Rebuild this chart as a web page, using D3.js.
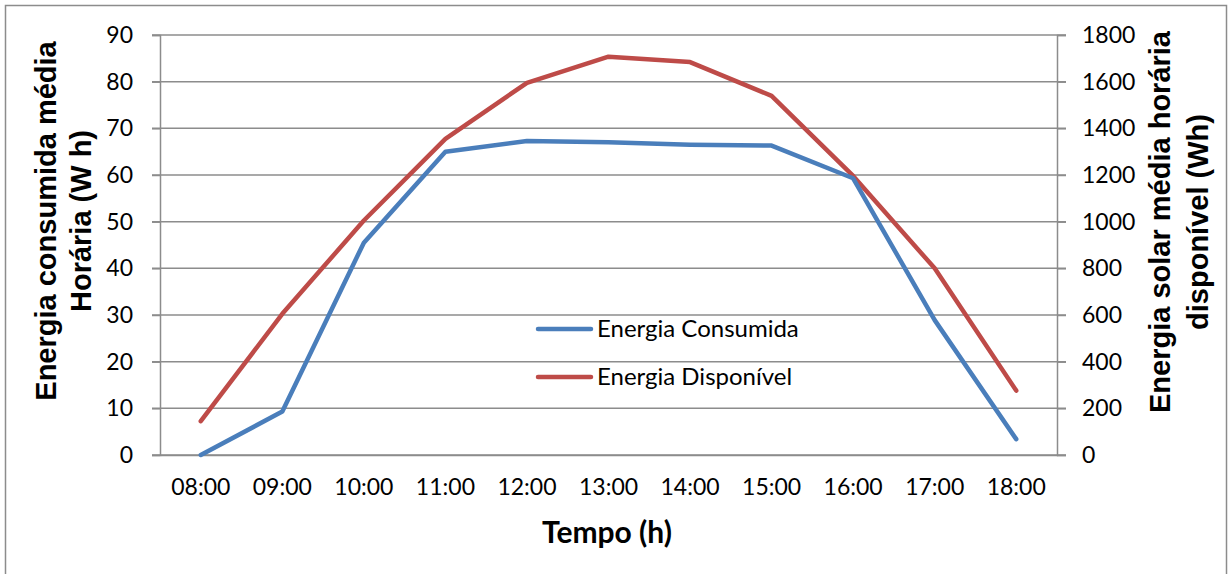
<!DOCTYPE html>
<html>
<head>
<meta charset="utf-8">
<script src="https://cdn.jsdelivr.net/npm/d3@7"></script>
<style>
  html, body { margin: 0; padding: 0; background: #fff; }
  svg { display: block; }
</style>
</head>
<body>
<svg id="chart" width="1229" height="574"></svg>
<script>
const categories = ["08:00","09:00","10:00","11:00","12:00","13:00","14:00","15:00","16:00","17:00","18:00"];
const consumida = [0, 9.3, 45.5, 65.0, 67.3, 67.0, 66.5, 66.3, 59.3, 28.9, 3.4];
const disponivel = [145, 605, 1005, 1355, 1595, 1707, 1684, 1539, 1196, 800, 276];
const leftTicks = [0,10,20,30,40,50,60,70,80,90];
const rightTicks = [0,200,400,600,800,1000,1200,1400,1600,1800];
const seriesNames = ["Energia Consumida", "Energia Disponível"];
const colors = ["#4a7ebb", "#be4b48"];

const svg = d3.select("#chart");
const m = {left: 160, right: 1057, top: 35, bottom: 455};
const gridColor = "#8c8c8c";
const tickFont = "Lato, 'Open Sans', sans-serif";

// border
svg.append("rect").attr("x", 5.5).attr("y", 5.5).attr("width", 1221).attr("height", 620)
  .attr("fill", "#fff").attr("stroke", gridColor).attr("stroke-width", 1.5);

const x = d3.scaleBand().domain(categories).range([m.left, m.right]);
const yL = d3.scaleLinear().domain([0, 90]).range([m.bottom, m.top]);
const yR = d3.scaleLinear().domain([0, 1800]).range([m.bottom, m.top]);

// gridlines
svg.append("g").selectAll("line").data(leftTicks).join("line")
  .attr("x1", m.left - 8).attr("x2", m.right + 9)
  .attr("y1", d => yL(d)).attr("y2", d => yL(d))
  .attr("stroke", gridColor).attr("stroke-width", 1.5);

// left axis
const axL = svg.append("g").attr("transform", `translate(${m.left},0)`)
  .call(d3.axisLeft(yL).tickValues(leftTicks).tickFormat(d3.format("d")).tickSize(8).tickPadding(19));
axL.select(".domain").attr("stroke", gridColor).attr("stroke-width", 1.5);
axL.selectAll(".tick line").attr("stroke", gridColor).attr("stroke-width", 1.5);
axL.selectAll("text").attr("font-family", tickFont).attr("font-size", 23).attr("fill", "#000");

// right axis
const axR = svg.append("g").attr("transform", `translate(${m.right},0)`)
  .call(d3.axisRight(yR).tickValues(rightTicks).tickFormat(d3.format("d")).tickSize(9).tickPadding(16));
axR.select(".domain").attr("stroke", gridColor).attr("stroke-width", 1.5);
axR.selectAll(".tick line").attr("stroke", gridColor).attr("stroke-width", 1.5);
axR.selectAll("text").attr("font-family", tickFont).attr("font-size", 23).attr("fill", "#000");

// bottom axis
const axB = svg.append("g").attr("transform", `translate(0,${m.bottom})`)
  .call(d3.axisBottom(x).tickSize(0).tickPadding(24));
axB.select(".domain").attr("stroke", gridColor).attr("stroke-width", 1.5);
axB.selectAll("text").attr("font-family", tickFont).attr("font-size", 23).attr("fill", "#000");

// lines
const cx = d => x(d) + x.bandwidth() / 2;
const lineL = d3.line().x((d, i) => cx(categories[i])).y(d => yL(d));
const lineR = d3.line().x((d, i) => cx(categories[i])).y(d => yR(d));

svg.append("path").datum(disponivel).attr("d", lineR)
  .attr("fill", "none").attr("stroke", colors[1]).attr("stroke-width", 4.5)
  .attr("stroke-linejoin", "round").attr("stroke-linecap", "round");
svg.append("path").datum(consumida).attr("d", lineL)
  .attr("fill", "none").attr("stroke", colors[0]).attr("stroke-width", 4.5)
  .attr("stroke-linejoin", "round").attr("stroke-linecap", "round");

// legend
const legY = [329, 377];
const leg = svg.append("g");
seriesNames.forEach((name, i) => {
  leg.append("line").attr("x1", 538).attr("x2", 591).attr("y1", legY[i]).attr("y2", legY[i])
    .attr("stroke", colors[i]).attr("stroke-width", 4.5).attr("stroke-linecap", "round");
  leg.append("text").attr("x", 597).attr("y", legY[i]).attr("dy", "0.35em")
    .attr("font-family", tickFont).attr("font-size", 24).attr("fill", "#000").text(name);
});

// axis titles
const titleFont = "'Liberation Sans', Arial, sans-serif";
const lt = svg.append("text").attr("transform", "translate(0,221) rotate(-90)")
  .attr("text-anchor", "middle").attr("font-family", titleFont).attr("font-weight", "bold")
  .attr("font-size", 29).attr("fill", "#000");
lt.append("tspan").attr("x", 0).attr("y", 56).text("Energia consumida média");
lt.append("tspan").attr("x", 0).attr("y", 91).text("Horária (W h)");

const rt = svg.append("text").attr("transform", "translate(0,222) rotate(-90)")
  .attr("text-anchor", "middle").attr("font-family", titleFont).attr("font-weight", "bold")
  .attr("font-size", 29).attr("fill", "#000");
rt.append("tspan").attr("x", 0).attr("y", 1170).text("Energia solar média horária");
rt.append("tspan").attr("x", 0).attr("y", 1208).text("disponível (Wh)");

svg.append("text").attr("x", 607).attr("y", 543).attr("text-anchor", "middle")
  .attr("font-family", "Lato, 'Open Sans', sans-serif").attr("font-weight", "bold")
  .attr("font-size", 30).attr("fill", "#000").text("Tempo (h)");
</script>
</body>
</html>
